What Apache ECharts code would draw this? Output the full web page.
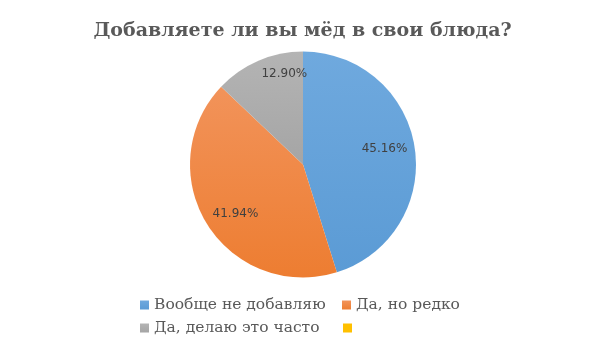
<!DOCTYPE html>
<html><head><meta charset="utf-8">
<script src="https://cdn.jsdelivr.net/npm/echarts@6/dist/echarts.min.js"></script>
<style>html,body{margin:0;padding:0;background:#fff}#c{width:605px;height:340px}</style>
</head><body><div id="c"></div>
<script>
const titleText = 'Добавляете ли вы мёд в свои блюда?';
const categories = ['Вообще не добавляю', 'Да, но редко', 'Да, делаю это часто', ' '];
const values = [45.16, 41.94, 12.90, 0];
const colors = ['#5b9bd5', '#ed7d31', '#a5a5a5', '#ffc000'];
const lightColors = ['#6fa9de', '#f2935a', '#b4b4b4', '#ffc000'];

function grad(i){
  return {type:'linear', x:0, y:0, x2:0, y2:1, colorStops:[{offset:0,color:lightColors[i]},{offset:1,color:colors[i]}]};
}
const chart = echarts.init(document.getElementById('c'));
const center = [303, 164.5];
const R = 113;
const labelOffsets = [[-3,-3],[5,4],[15,-12],[0,0]];
const serif = '"DejaVu Serif", serif';
const legendPos = [[140,297],[342,297],[140,320],[343,320]];
chart.setOption({
  animation:false,
  title:{text:titleText, left:'center', top:17, textStyle:{fontFamily:serif, fontWeight:'bold', fontSize:19, color:'#595959'}},
  legend: categories.map((n,i)=>({
    data:[n], left:legendPos[i][0], top:legendPos[i][1], padding:0, icon:'rect', itemWidth:9, itemHeight:9, itemGap:0,
    textStyle:{fontFamily:serif, fontSize:15.5, color:'#595959'}
  })),
  series:[{
    type:'pie', center:center, radius:[0,R], startAngle:90, clockwise:true, silent:true,
    label:{show:false}, labelLine:{show:false},
    data: categories.map((n,i)=>({name:n, value:values[i], itemStyle:{color:grad(i)}}))
  },{
    type:'pie', center:center, radius:[R*0.46,R], startAngle:90, clockwise:true, silent:true, legendHoverLink:false,
    itemStyle:{color:'rgba(0,0,0,0)'},
    labelLine:{show:false},
    label:{show:true, position:'inside', fontFamily:'"DejaVu Sans", sans-serif', fontSize:12, color:'#404040', formatter:p=>p.value.toFixed(2)+'%'},
    data: categories.map((n,i)=>({name:'lbl'+i, value:values[i], label:{show:values[i]>0, offset:labelOffsets[i]}}))
  }]
});
</script></body></html>
